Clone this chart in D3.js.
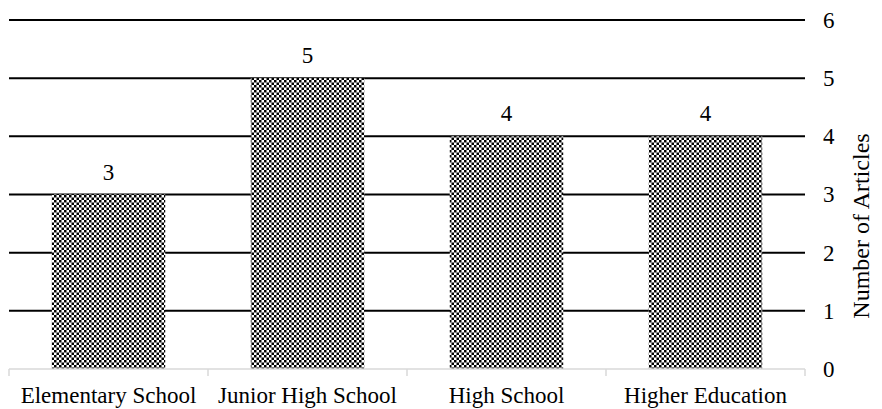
<!DOCTYPE html>
<html>
<head>
<meta charset="utf-8">
<script src="https://cdn.jsdelivr.net/npm/d3@7"></script>
<style>
  body { margin: 0; background: #fff; }
</style>
</head>
<body>
<div id="chart"></div>
<script>
// data
var categories = ["Elementary School", "Junior High School", "High School", "Higher Education"];
var counts = [3, 5, 4, 4];
var yTicks = [0, 1, 2, 3, 4, 5, 6];

var FONT = "Liberation Serif, DejaVu Serif, Noto Serif, Times New Roman, serif";

var W = 882, H = 409;
var margin = {top: 20, right: 77, bottom: 40, left: 9},
    width = W - margin.left - margin.right,
    height = H - margin.top - margin.bottom;

var svgRoot = d3.select("#chart")
    .append("svg")
    .attr("width", W)
    .attr("height", H);

// checker pattern for bars
var pat = svgRoot.append("defs").append("pattern")
    .attr("id", "checker")
    .attr("patternUnits", "userSpaceOnUse")
    .attr("width", 5)
    .attr("height", 5);
pat.append("rect").attr("width", 5).attr("height", 5).attr("fill", "#fff");
pat.append("rect").attr("width", 2.5).attr("height", 2.5).attr("fill", "#000");
pat.append("rect").attr("x", 2.5).attr("y", 2.5).attr("width", 2.5).attr("height", 2.5).attr("fill", "#000");

var svg = svgRoot.append("g")
    .attr("transform", `translate(${margin.left},${margin.top})`);

var xScale = d3.scaleBand()
    .domain(categories)
    .range([0, width])
    .paddingInner(0.43)
    .paddingOuter(0.215);

var xOuter = d3.scaleBand()
    .domain(categories)
    .range([0, width]);

var yScale = d3.scaleLinear()
    .domain([0, 6])
    .range([height, 0]);

// gridlines
svg.selectAll(".grid")
    .data(yTicks.filter(d => d > 0))
    .enter()
    .append("line")
    .attr("x1", 0)
    .attr("x2", width)
    .attr("y1", d => yScale(d))
    .attr("y2", d => yScale(d))
    .attr("stroke", "#000")
    .attr("stroke-width", 2);

// bars
svg.selectAll(".bar")
    .data(counts)
    .enter()
    .append("rect")
    .attr("x", (d, i) => xScale(categories[i]))
    .attr("width", xScale.bandwidth())
    .attr("y", d => yScale(d))
    .attr("height", d => height - yScale(d))
    .attr("fill", "url(#checker)");

// value labels
svg.selectAll(".val")
    .data(counts)
    .enter()
    .append("text")
    .attr("x", (d, i) => xScale(categories[i]) + xScale.bandwidth() / 2)
    .attr("y", d => yScale(d) - 15)
    .attr("text-anchor", "middle")
    .style("font-family", FONT)
    .style("font-size", "23px")
    .attr("fill", "#000")
    .text(d => d);

// baseline with category ticks
var xAxis = svg.append("g")
    .attr("transform", `translate(0, ${height})`);
xAxis.append("line")
    .attr("x1", 0).attr("x2", width)
    .attr("stroke", "#d9d9d9").attr("stroke-width", 1.5);
var bounds = categories.map(c => xOuter(c)).concat([width]);
xAxis.selectAll(".sep")
    .data(bounds)
    .enter()
    .append("line")
    .attr("x1", d => d).attr("x2", d => d)
    .attr("y1", 0).attr("y2", 7)
    .attr("stroke", "#d9d9d9").attr("stroke-width", 1.5);
xAxis.selectAll(".cat")
    .data(categories)
    .enter()
    .append("text")
    .attr("x", d => xOuter(d) + xOuter.bandwidth() / 2)
    .attr("y", 34)
    .attr("text-anchor", "middle")
    .style("font-family", FONT)
    .style("font-size", "23px")
    .attr("fill", "#000")
    .text(d => d);

// right axis labels
var yAxis = svg.append("g")
    .attr("transform", `translate(${width}, 0)`)
    .call(d3.axisRight(yScale).tickValues(yTicks).tickSize(0).tickPadding(18).tickFormat(d3.format("d")));
yAxis.select(".domain").remove();
yAxis.selectAll("text")
    .style("font-family", FONT)
    .style("font-size", "23px")
    .attr("fill", "#000");

// axis title
svgRoot.append("text")
    .attr("transform", "translate(869, 226) rotate(-90)")
    .attr("text-anchor", "middle")
    .style("font-family", FONT)
    .style("font-size", "24px")
    .attr("fill", "#000")
    .text("Number of Articles");
</script>
</body>
</html>
